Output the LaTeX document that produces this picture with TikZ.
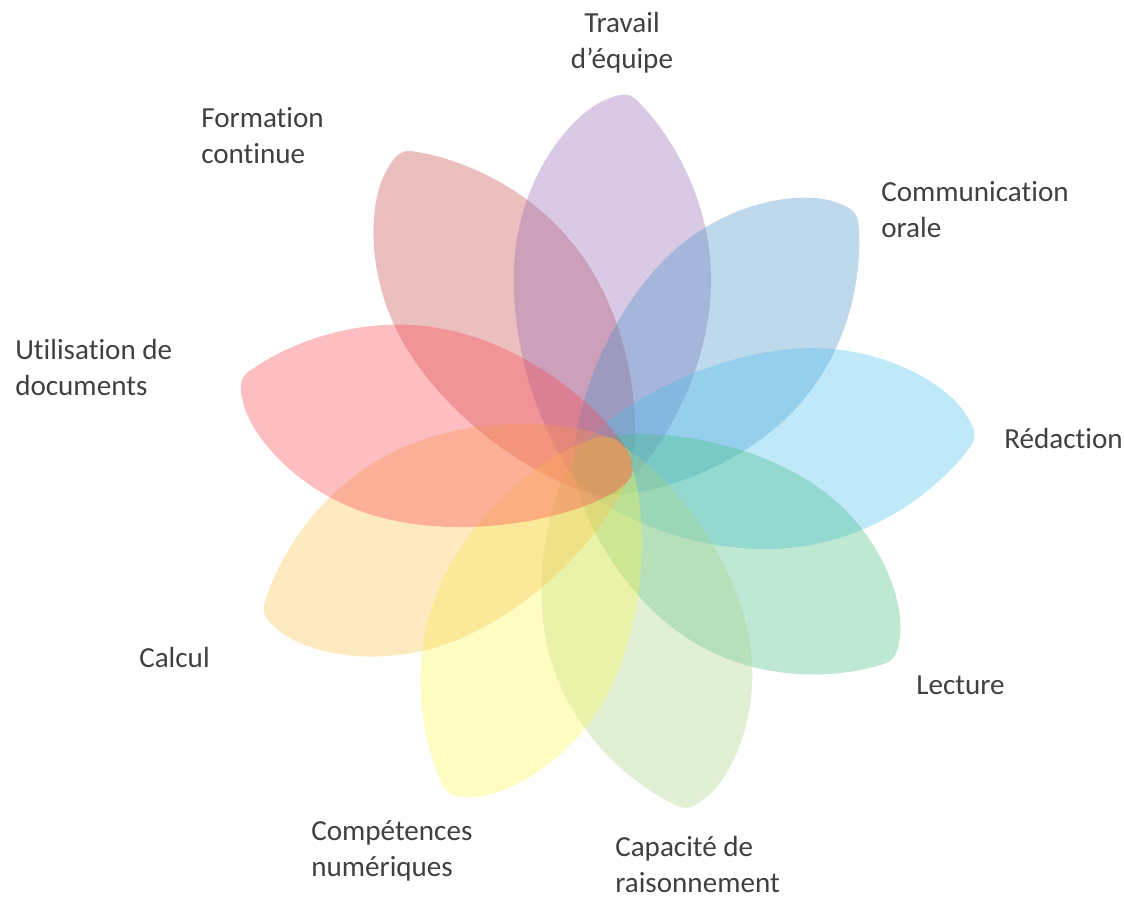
\documentclass[tikz,border=0pt]{standalone}
\usepackage{fontspec}
\setmainfont{Carlito}[Ligatures=NoCommon]

\definecolor{labelgray}{HTML}{404040}
\definecolor{travail}{RGB}{146,101,178}
\definecolor{communication}{RGB}{72,146,201}
\definecolor{redaction}{RGB}{72,189,235}
\definecolor{lecture}{RGB}{69,189,132}
\definecolor{capacite}{RGB}{169,209,135}
\definecolor{competences}{RGB}{252,246,84}
\definecolor{calcul}{RGB}{249,195,75}
\definecolor{utilisation}{RGB}{249,69,78}
\definecolor{formation}{RGB}{201,72,72}

% one leaf, drawn from the middle of the flower outwards:
% #1 colour, #2 direction, #3 stretch along the leaf
\newcommand{\drawpetal}[3]{%
  \fill[petal, fill=#1, shift={(602,432)}, rotate=#2, xscale=#3]
    (-30,0) .. controls (-30,30) and (80,100) .. (190,100)
    .. controls (275,100) and (338,50) .. (352,18)
    .. controls (360,2) and (360,-6) .. (350,-16)
    .. controls (325,-45) and (260,-98) .. (170,-98)
    .. controls (70,-98) and (-30,-30) .. cycle;}

\begin{document}
\begin{tikzpicture}[x=0.025cm, y=0.025cm,
    petal/.style={fill opacity=0.35},
    skill/.style={text=labelgray, inner sep=0pt, align=left, anchor=west,
      font=\fontsize{20.7}{25.6}\selectfont}]
   \useasboundingbox (0,0) rectangle (1124,898);

   \drawpetal{formation}{123}{1.04}
   \drawpetal{travail}{86.5}{1.04}
   \drawpetal{communication}{45.5}{1.0}
   \drawpetal{redaction}{5}{1.045}
   \drawpetal{lecture}{-33}{0.975}
   \drawpetal{capacite}{-75.5}{0.985}
   \drawpetal{competences}{-114.5}{1.01}
   \drawpetal{calcul}{-156}{1.03}
   \drawpetal{utilisation}{167}{1.035}

   \node[skill, align=center, anchor=center] (travail) at (622,855.5) {Travail\\d’équipe};
   \node[skill] (formation) at (201,762.5) {Formation\\continue};
   \node[skill] (communication) at (881,688) {Communication\\orale};
   \node[skill] (utilisation) at (15,530) {Utilisation de\\documents};
   \node[skill] (redaction) at (1004,459) {Rédaction};
   \node[skill] (lecture) at (916,213) {Lecture};
   \node[skill] (calcul) at (139,240) {Calcul};
   \node[skill] (competences) at (311,47) {Compétences\\numériques};
   \node[skill] (capacite) at (615,33) {Capacité de\\raisonnement};
 \end{tikzpicture}
\end{document}
